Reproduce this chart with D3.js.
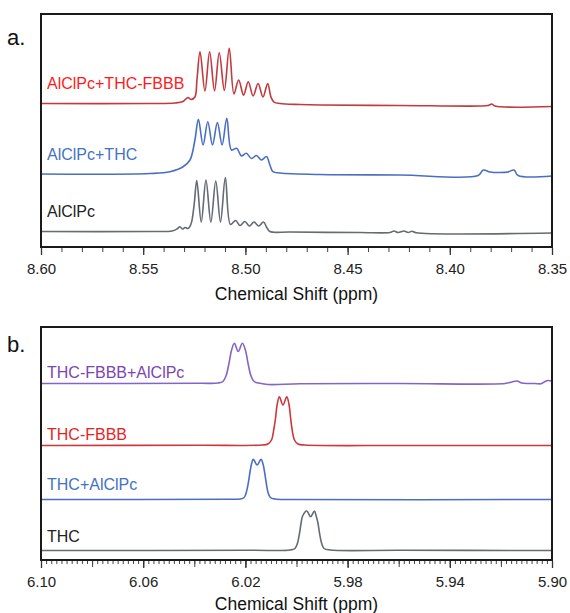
<!DOCTYPE html>
<html>
<head>
<meta charset="utf-8">
<script src="https://cdn.jsdelivr.net/npm/d3@7"></script>
<style>
  html, body { margin: 0; padding: 0; background: #fff; }
  svg { display: block; font-family: "Liberation Sans", Arial, sans-serif; }
</style>
</head>
<body>
<svg id="chart" width="570" height="613"></svg>
<script>
// ---------------- DATA ----------------
// Panel a: 1H NMR, 8.60–8.35 ppm. Each spectrum: [ppm, intensity above its own baseline]
const specA_AlClPc_THC_FBBB = [
  [8.6000,1.29],[8.5467,1.29],[8.5344,1.5],[8.5305,2.15],[8.5281,3.86],[8.5266,3.0],[8.5247,4.08],
  [8.5237,11.4],[8.5222,23.5],[8.5198,6.7],[8.5175,23.5],[8.5151,6.7],[8.5128,23.1],[8.5103,6.9],
  [8.5079,25.0],[8.5056,5.4],[8.5033,11.4],[8.5009,4.9],[8.4986,10.6],[8.4962,4.5],[8.4938,9.9],
  [8.4914,4.1],[8.4891,9.9],[8.4875,4.1],[8.4860,1.9],[8.4831,1.29],[8.4733,0.86],[8.4635,0.64],
  [8.4244,0.43],[8.3852,0.21],[8.3813,0.43],[8.3795,1.07],[8.3779,0.21],[8.3500,0]
];
const specA_AlClPc_THC = [
  [8.6000,0.86],[8.5467,1.07],[8.5369,1.85],[8.5305,3.99],[8.5271,6.87],[8.5247,15.45],
  [8.5230,24.3],[8.5207,13.3],[8.5184,23.3],[8.5161,13.3],[8.5137,22.9],[8.5114,13.3],
  [8.5091,24.8],[8.5068,11.16],[8.5043,11.9],[8.5019,8.58],[8.4996,9.74],[8.4970,7.5],
  [8.4946,8.8],[8.4921,6.87],[8.4897,8.37],[8.4880,4.72],[8.4865,1.85],[8.4831,1.29],
  [8.4635,0.64],[8.4244,0.43],[8.3862,0.21],[8.3836,2.58],[8.3803,1.72],[8.3754,1.5],
  [8.3715,1.72],[8.3686,2.58],[8.3666,0.21],[8.3500,0]
];
const specA_AlClPc = [
  [8.6000,0.64],[8.5467,0.64],[8.5359,0.86],[8.5335,1.72],[8.5320,2.7],[8.5308,1.72],[8.5295,2.36],
  [8.5281,1.93],[8.5266,3.86],[8.5251,12.0],[8.5238,22.5],[8.5216,4.7],[8.5193,22.7],[8.5169,4.7],
  [8.5145,22.3],[8.5122,4.7],[8.5098,23.8],[8.5073,3.65],[8.5048,5.36],[8.5026,3.22],[8.5003,4.94],
  [8.4980,3.0],[8.4958,4.72],[8.4935,3.0],[8.4912,4.72],[8.4894,2.15],[8.4880,0.64],[8.4782,0.43],
  [8.4439,0.21],[8.4293,0.21],[8.4273,0.86],[8.4253,0.21],[8.4224,0.86],[8.4204,0.21],[8.4185,0.77],
  [8.4165,0.13],[8.3500,0]
];
const offsetsA = [60.3, 30.47, 6.0];
const labelsA = ["AlClPc+THC-FBBB", "AlClPc+THC", "AlClPc"];

// Panel b: 6.10–5.90 ppm
const specB_THC_FBBB_AlClPc = [
  [6.1000,0],[6.0378,0.09],[6.0307,0.21],[6.0288,0.86],[6.0276,3.22],[6.0264,8.8],[6.0254,14.38],
  [6.0243,17.25],[6.0228,13.73],[6.0212,17.25],[6.0200,14.38],[6.0190,8.8],[6.0178,3.22],
  [6.0166,0.86],[6.0143,0.09],[6.0112,-0.43],[5.9986,-0.13],[5.9595,0],[5.9184,0],[5.9157,0.64],
  [5.9137,1.07],[5.9117,0.21],[5.9067,0],[5.9043,-0.09],[5.9027,0.86],[5.9016,1.29],[5.9000,1.07]
];
const specB_THC_FBBB = [
  [6.1000,0],[6.0378,0.09],[6.0135,0.21],[6.0112,0.64],[6.0098,2.36],[6.0088,7.51],[6.0082,11.8],
  [6.0076,17.38],[6.0067,20.94],[6.0053,17.38],[6.0038,20.94],[6.0029,17.38],[6.0023,11.8],
  [6.0018,7.51],[6.0008,2.36],[5.9994,0.64],[5.9967,0.21],[5.9595,0],[5.9000,0]
];
const specB_THC_AlClPc = [
  [6.1000,0],[6.0260,0.09],[6.0221,0.21],[6.0205,0.86],[6.0196,3.22],[6.0188,7.51],[6.0182,11.8],
  [6.0176,15.24],[6.0169,17.25],[6.0154,14.81],[6.0139,17.25],[6.0131,15.24],[6.0125,11.8],
  [6.0119,7.51],[6.0112,3.22],[6.0102,0.86],[6.0084,0.21],[6.0025,0],[5.9000,0]
];
const specB_THC = [
  [6.1000,0],[6.0182,0.09],[6.0025,0.21],[6.0006,0.86],[5.9996,3.22],[5.9988,7.51],[5.9982,11.8],
  [5.9976,14.81],[5.9960,16.95],[5.9945,14.51],[5.9930,16.95],[5.9923,14.81],[5.9916,11.8],
  [5.9910,7.51],[5.9902,3.22],[5.9892,0.86],[5.9869,0.21],[5.9595,0.09],[5.9000,0]
];
const offsetsB = [75.75, 49.14, 25.97, 4.08];
const labelsB = ["THC-FBBB+AlClPc", "THC-FBBB", "THC+AlClPc", "THC"];

const ticksA = [8.60, 8.55, 8.50, 8.45, 8.40, 8.35];
const minorTicksA = d3.range(0, 26).map(i => +(8.60 - i * 0.01).toFixed(2));
const ticksB = [6.10, 6.06, 6.02, 5.98, 5.94, 5.90];
const midTicksB = d3.range(0, 11).map(i => +(6.10 - i * 0.02).toFixed(3));
const minorTicksB = d3.range(0, 101).map(i => +(6.10 - i * 0.002).toFixed(3));
const axisTitle = "Chemical Shift (ppm)";

// ---------------- STYLE ----------------
const lineColorsA = ["#c23a3e", "#4a6fc2", "#646b75"];
const textColorsA = ["#ff1a1a", "#4472c4", "#222222"];
const lineColorsB = ["#8465c4", "#cc383b", "#4a6fc2", "#646b75"];
const textColorsB = ["#7a45b0", "#e81e1e", "#4472c4", "#222222"];

const svg = d3.select("#chart");

function panel(opts) {
  const g = svg.append("g");
  const x = d3.scaleLinear().domain(opts.xDomain).range([opts.left, opts.right]);
  const y = d3.scaleLinear().domain([0, 100]).range([opts.bottom, opts.top]);

  // spectra
  const line = d3.line().curve(d3.curveCatmullRom.alpha(0.5));
  opts.series.forEach((s, i) => {
    g.append("path")
      .attr("d", line(s.map(d => [x(d[0]), y(d[1] + opts.offsets[i])])))
      .attr("fill", "none")
      .attr("stroke", opts.lineColors[i])
      .attr("stroke-width", 1.6)
      .attr("stroke-linejoin", "round");
    g.append("text")
      .attr("x", opts.left + 6)
      .attr("y", y(opts.offsets[i] + opts.labelDy[i]))
      .attr("dy", "0.35em")
      .attr("fill", opts.textColors[i])
      .attr("font-size", 16)
      .text(opts.labels[i]);
  });

  // frame
  g.append("rect")
    .attr("x", opts.left).attr("y", opts.top)
    .attr("width", opts.right - opts.left).attr("height", opts.bottom - opts.top)
    .attr("fill", "none").attr("stroke", "#1a1a1a").attr("stroke-width", 2);

  // minor ticks
  opts.minorSets.forEach(ms => {
    const ax = g.append("g").attr("transform", `translate(0,${opts.bottom + 1})`)
      .call(d3.axisBottom(x).tickValues(ms.values).tickSize(ms.size).tickFormat(""));
    ax.select(".domain").remove();
    ax.selectAll("line").attr("stroke", "#444").attr("stroke-width", 1);
  });
  // major ticks
  const axm = g.append("g").attr("transform", `translate(0,${opts.bottom + 1})`)
    .call(d3.axisBottom(x).tickValues(opts.ticks).tickSize(opts.majorSize).tickPadding(opts.pad)
      .tickFormat(d3.format(".2f")));
  axm.select(".domain").remove();
  axm.selectAll("line").attr("stroke", "#333").attr("stroke-width", 1.3);
  axm.selectAll("text").attr("font-size", 15).attr("fill", "#222")
    .attr("font-family", "Liberation Sans, Arial, sans-serif");

  // axis title
  g.append("text")
    .attr("x", (opts.left + opts.right) / 2)
    .attr("y", opts.titleY)
    .attr("text-anchor", "middle")
    .attr("font-size", 17.5)
    .attr("fill", "#111")
    .text(axisTitle);

  // panel letter
  g.append("text")
    .attr("x", 7).attr("y", opts.letterY)
    .attr("font-size", 22).attr("fill", "#111")
    .text(opts.letter);
}

panel({
  xDomain: [8.60, 8.35], left: 41, right: 552, top: 14, bottom: 247,
  series: [specA_AlClPc_THC_FBBB, specA_AlClPc_THC, specA_AlClPc],
  offsets: offsetsA, labels: labelsA, labelDy: [9.8, 9.3, 9.4],
  lineColors: lineColorsA, textColors: textColorsA,
  ticks: ticksA, majorSize: 7, pad: 8,
  minorSets: [{ values: minorTicksA, size: 4 }],
  titleY: 300, letter: "a.", letterY: 45
});

panel({
  xDomain: [6.10, 5.90], left: 41, right: 552, top: 327, bottom: 560,
  series: [specB_THC_FBBB_AlClPc, specB_THC_FBBB, specB_THC_AlClPc, specB_THC],
  offsets: offsetsB, labels: labelsB, labelDy: [4.9, 4.9, 6.6, 6.0],
  lineColors: lineColorsB, textColors: textColorsB,
  ticks: ticksB, majorSize: 7, pad: 8,
  minorSets: [{ values: minorTicksB, size: 3 }, { values: midTicksB, size: 6 }],
  titleY: 610, letter: "b.", letterY: 352
});
</script>
</body>
</html>
